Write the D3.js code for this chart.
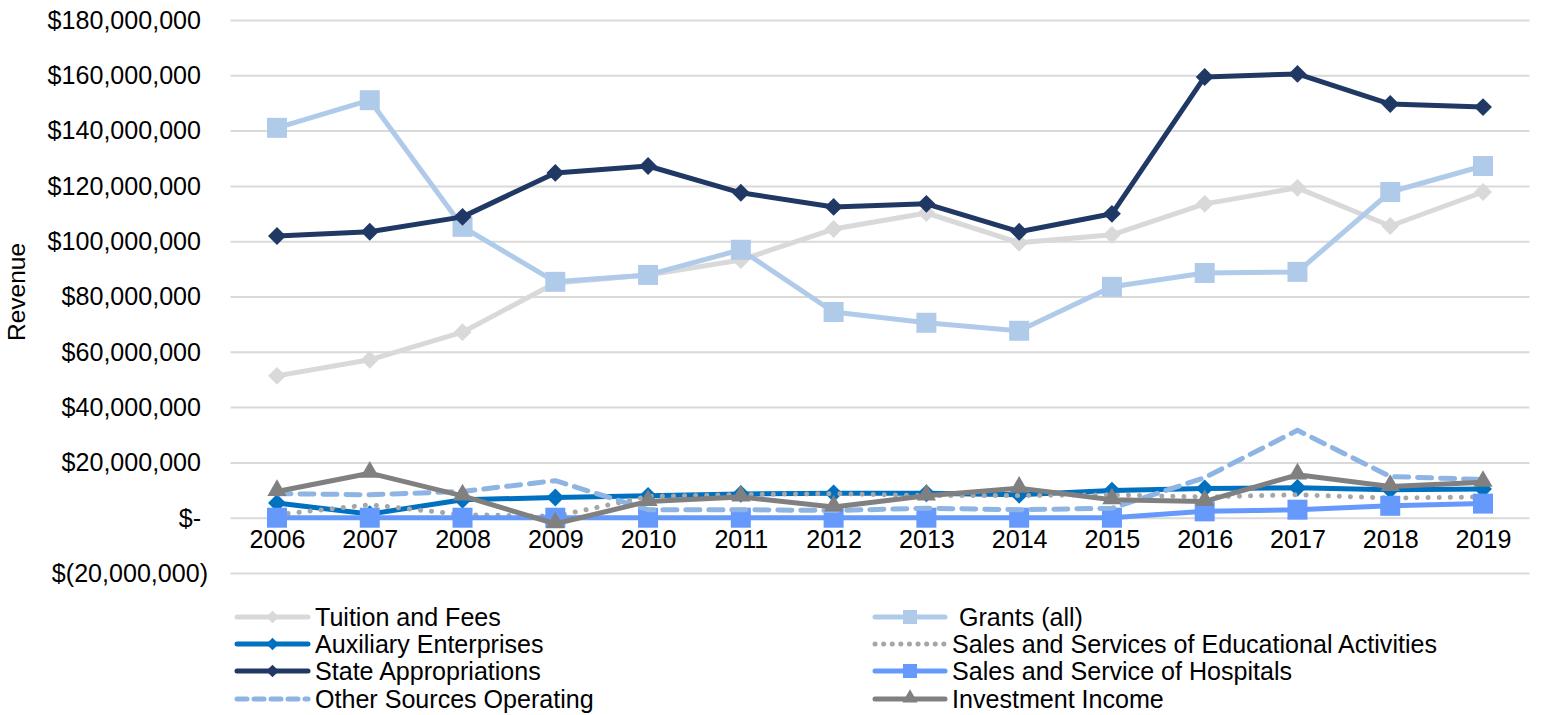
<!DOCTYPE html>
<html>
<head>
<meta charset="utf-8">
<script src="https://cdn.jsdelivr.net/npm/d3@7"></script>
<style>
  html, body { margin: 0; padding: 0; background: #fff; }
  svg { display: block; font-family: "Liberation Sans", Arial, sans-serif; }
</style>
</head>
<body>
<svg id="chart" width="1541" height="715"></svg>
<script>
// Revenue by source, in millions of dollars
const years = ["2006","2007","2008","2009","2010","2011","2012","2013","2014","2015","2016","2017","2018","2019"];
const tuitionFees      = [51.3, 57.1, 67.1, 84.9, 87.8, 93.2, 104.4, 110.2, 99.4, 102.3, 113.5, 119.3, 105.5, 117.8];
const grantsAll        = [141.0, 151.0, 105.2, 85.3, 87.8, 96.9, 74.4, 70.5, 67.6, 83.5, 88.5, 88.9, 117.8, 127.2];
const auxiliary        = [5.3, 1.3, 6.5, 7.3, 7.9, 8.6, 8.8, 8.8, 8.3, 9.8, 10.6, 10.8, 10.1, 10.4];
const salesEducational = [1.1, 4.7, 1.1, 0.5, 7.7, 8.4, 8.7, 8.0, 8.0, 8.3, 7.5, 8.3, 7.1, 7.5];
const stateApprop      = [101.9, 103.4, 108.8, 124.7, 127.2, 117.5, 112.4, 113.5, 103.4, 109.9, 159.4, 160.5, 149.6, 148.5];
const salesHospitals   = [0, 0, 0, 0, 0, 0, 0, 0, 0, 0, 2.3, 2.9, 4.3, 5.1];
const otherOperating   = [8.7, 8.3, 9.5, 13.4, 2.9, 2.9, 2.6, 3.4, 2.9, 3.4, 14.5, 31.6, 14.9, 13.8];
const investmentIncome = [9.5, 16.1, 7.9, -2.2, 5.9, 7.5, 3.9, 7.9, 10.7, 6.5, 5.9, 15.5, 11.3, 12.8];

const yTickValues = [-20, 0, 20, 40, 60, 80, 100, 120, 140, 160, 180];
const yTickLabels = ["$(20,000,000)", "$-", "$20,000,000", "$40,000,000", "$60,000,000", "$80,000,000",
                     "$100,000,000", "$120,000,000", "$140,000,000", "$160,000,000", "$180,000,000"];

const seriesNames = ["Tuition and Fees", " Grants (all)", "Auxiliary Enterprises",
                     "Sales and Services of Educational Activities", "State Appropriations",
                     "Sales and Service of Hospitals", "Other Sources Operating", "Investment Income"];

const series = [
  { name: seriesNames[0], values: tuitionFees,      color: "#d9d9d9", marker: "diamond" },
  { name: seriesNames[1], values: grantsAll,        color: "#b0cbea", marker: "square" },
  { name: seriesNames[2], values: auxiliary,        color: "#0070c0", marker: "diamond" },
  { name: seriesNames[3], values: salesEducational, color: "#a6a6a6", marker: null, dash: "0.1 11" },
  { name: seriesNames[4], values: stateApprop,      color: "#203864", marker: "diamond" },
  { name: seriesNames[5], values: salesHospitals,   color: "#6699fc", marker: "square" },
  { name: seriesNames[6], values: otherOperating,   color: "#8eb4e3", marker: null, dash: "14 9" },
  { name: seriesNames[7], values: investmentIncome, color: "#808080", marker: "triangle" }
];

const svg = d3.select("#chart");
const plotLeft = 230.6, plotRight = 1529.4, plotTop = 20, plotBottom = 573;
const textStretch = 0.965;
const fontSize = "26px";

const x = d3.scalePoint().domain(years).range([plotLeft, plotRight]).padding(0.5);
const y = d3.scaleLinear().domain([-20, 180]).range([plotBottom, plotTop]);

// Horizontal gridlines and value labels
const yAxis = svg.append("g")
  .attr("transform", `translate(${plotLeft},0)`)
  .call(d3.axisLeft(y)
    .tickValues(yTickValues)
    .tickFormat((d, i) => yTickLabels[i])
    .tickSize(-(plotRight - plotLeft))
    .tickPadding(30));
yAxis.select(".domain").remove();
yAxis.selectAll(".tick line").attr("stroke", "#d9d9d9").attr("stroke-width", 2);
yAxis.selectAll(".tick text")
  .attr("fill", "#000")
  .style("font-size", fontSize)
  .style("font-family", "'Liberation Sans', Arial, sans-serif")
  .each(function (d) {
    const t = d3.select(this);
    const xPos = d < 0 ? -22.6 : -29.6;
    t.attr("x", 0).attr("transform", `translate(${xPos},0) scale(${textStretch},1)`);
  });

// Year labels sit just under the zero line
const xAxis = svg.append("g")
  .attr("transform", `translate(0,${y(0)})`)
  .call(d3.axisBottom(x).tickSize(0).tickPadding(12));
xAxis.select(".domain").remove();
xAxis.selectAll(".tick text")
  .attr("fill", "#000")
  .style("font-size", fontSize)
  .style("font-family", "'Liberation Sans', Arial, sans-serif")
  .attr("transform", `scale(${textStretch},1)`)
  .attr("x", 0);

// Axis title
svg.append("text")
  .attr("transform", `translate(25,292) rotate(-90) scale(1,${textStretch})`)
  .attr("text-anchor", "middle")
  .style("font-size", "24.5px")
  .text("Revenue");

function markerPath(type, big) {
  if (type === "square") return d3.symbol(d3.symbolSquare, big ? 400 : 196)();
  if (type === "diamond") return d3.symbol(d3.symbolSquare, big ? 160 : 80)();
  if (type === "triangle") return d3.symbol(d3.symbolTriangle, big ? 160 : 100)();
  return null;
}
function markerTransform(type, px, py) {
  if (type === "diamond") return `translate(${px},${py}) rotate(45)`;
  if (type === "triangle") return `translate(${px},${py - 1})`;
  return `translate(${px},${py})`;
}

const line = d3.line().x((d, i) => x(years[i])).y(d => y(d));

const plot = svg.append("g");
series.forEach(s => {
  const g = plot.append("g");
  g.append("path")
    .datum(s.values)
    .attr("d", line)
    .attr("fill", "none")
    .attr("stroke", s.color)
    .attr("stroke-width", 5)
    .attr("stroke-linejoin", "round")
    .attr("stroke-linecap", "round")
    .attr("stroke-dasharray", s.dash || null);
  if (s.marker) {
    g.selectAll("path.mk")
      .data(s.values)
      .join("path")
      .attr("class", "mk")
      .attr("d", markerPath(s.marker, true))
      .attr("transform", (d, i) => markerTransform(s.marker, x(years[i]), y(d)))
      .attr("fill", s.color);
  }
});

// Legend: two columns, four rows
const legendRowY = [617, 644, 671, 699];
const legendCols = [{ x1: 237, x2: 308, tx: 315 }, { x1: 875, x2: 945, tx: 952 }];
const legend = svg.append("g");
series.forEach((s, i) => {
  const col = legendCols[i % 2];
  const ly = legendRowY[Math.floor(i / 2)];
  const g = legend.append("g");
  g.append("line")
    .attr("x1", col.x1).attr("x2", col.x2)
    .attr("y1", ly).attr("y2", ly)
    .attr("stroke", s.color)
    .attr("stroke-width", 5)
    .attr("stroke-linecap", "round")
    .attr("stroke-dasharray", s.dash === "14 9" ? "10 7" : (s.dash ? "0.1 8.5" : null));
  if (s.marker) {
    g.append("path")
      .attr("d", markerPath(s.marker, false))
      .attr("transform", markerTransform(s.marker, (col.x1 + col.x2) / 2, ly))
      .attr("fill", s.color);
  }
  g.append("text")
    .attr("transform", `translate(${col.tx},${ly}) scale(${textStretch},1)`)
    .attr("dy", "0.35em")
    .style("font-size", fontSize)
    .style("white-space", "pre")
    .attr("xml:space", "preserve")
    .text(s.name);
});
</script>
</body>
</html>
